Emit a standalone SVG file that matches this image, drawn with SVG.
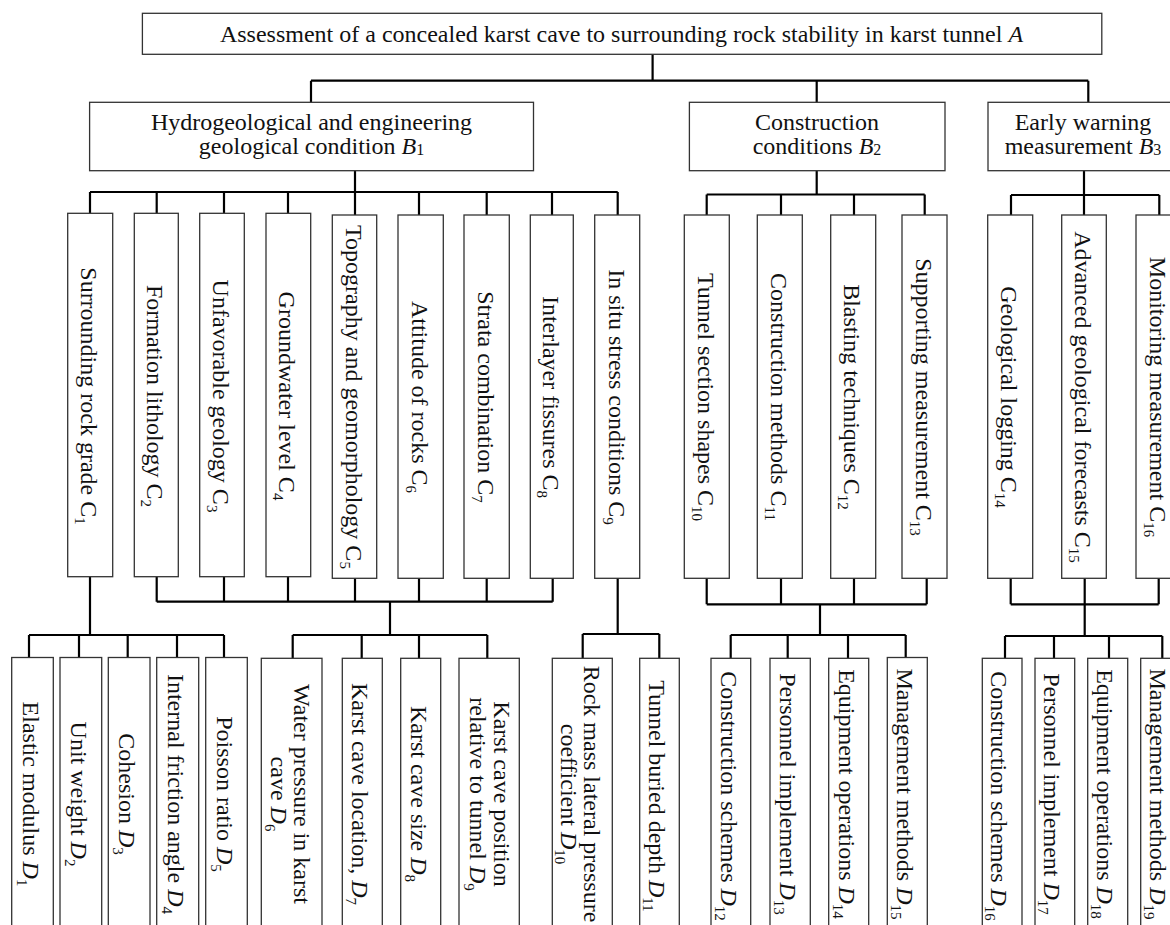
<svg xmlns="http://www.w3.org/2000/svg" width="1170" height="925" viewBox="0 0 1170 925">
<style>
  .bx{fill:#fff;stroke:#333;stroke-width:1.3}
  .cn{fill:none;stroke:#000;stroke-width:2.2}
  text{font-family:"Liberation Serif","Times New Roman",serif;font-size:24px;fill:#111;text-anchor:middle}
  .i{font-style:italic}
  .s{font-size:15px}
  .bs{font-size:16px}
</style>
<rect width="1170" height="925" fill="#fff"/>
<g id="connectors" class="cn">
  <path d="M652.6 54.3V80.7M311 80.7H1088.3M311 80.7V102.3M816.7 80.7V102.3M1088.3 80.7V102.3"/>
  <path d="M355 170.7V192M90 192H617.7M90 192V213.5M156.7 192V213.5M224 192V213.5M288 192V213.5M355 192V215M419 192V215M486.7 192V215M552 192V215M617.7 192V215"/>
  <path d="M816.7 170.7V194.5M706.7 194.5H924.7M706.7 194.5V215M781 194.5V215M854 194.5V215M924.7 194.5V215"/>
  <path d="M1084 170.7V195M1011 195H1159.3M1011 195V215M1084 195V215M1159.3 195V215"/>
  <path d="M90 577V635M29 635H224M29 635V658M79 635V658M127.7 635V658M177 635V658M224 635V658"/>
  <path d="M156.7 577V601.7M224 577V601.7M288 577V601.7M355 578V601.7M419 578V601.7M486.7 578V601.7M552.7 578V601.7M156.7 601.7H552.7M390 601.7V635M292.7 635H487.3M292.7 635V658M361.7 635V658M419 635V658M487.3 635V658"/>
  <path d="M617.7 578V634M582.7 634H659.3M582.7 634V658M659.3 634V658"/>
  <path d="M706.7 578V604.3M781 578V604.3M854 578V604.3M926.7 578V604.3M706.7 604.3H926.7M820 604.3V635M730.7 635H905.7M730.7 635V658M787.7 635V658M848 635V658M905.7 635V658"/>
  <path d="M1010.7 578V604.3M1084.7 578V604.3M1158.7 578V604.3M1010.7 604.3H1158.7M1084.7 604.3V636M1005 636H1162.3M1005 636V658M1054 636V658M1109 636V658M1162.3 636V658"/>
</g>
<g id="A"><rect class="bx" x="142.4" y="13.3" width="959.4" height="41"/><text x="621.5" y="42">Assessment of a concealed karst cave to surrounding rock stability in karst tunnel <tspan class="i">A</tspan></text></g>
<g id="B1"><rect class="bx" x="89.6" y="102.3" width="443.9" height="68.4"/><text x="311.5" y="130">Hydrogeological and engineering</text><text x="311.5" y="154">geological condition <tspan class="i">B</tspan><tspan class="bs" dy="1">1</tspan></text></g>
<g id="B2"><rect class="bx" x="689.4" y="102.3" width="255.6" height="68.4"/><text x="817" y="130">Construction</text><text x="817" y="154">conditions <tspan class="i">B</tspan><tspan class="bs" dy="1">2</tspan></text></g>
<g id="B3"><rect class="bx" x="988" y="102.3" width="190" height="68.4"/><text x="1083" y="130">Early warning</text><text x="1083" y="154">measurement <tspan class="i">B</tspan><tspan class="bs" dy="1">3</tspan></text></g>
<g id="C1"><rect class="bx" x="67.7" y="213.3" width="45" height="363.4"/><text transform="translate(81.2,396) rotate(90)">Surrounding rock grade C<tspan class="s" dy="6">1</tspan></text></g>
<g id="C2"><rect class="bx" x="134.3" y="213.3" width="44" height="363.4"/><text transform="translate(147.3,396) rotate(90)">Formation lithology C<tspan class="s" dy="6">2</tspan></text></g>
<g id="C3"><rect class="bx" x="199.7" y="213.3" width="44.6" height="363.4"/><text transform="translate(213,396) rotate(90)">Unfavorable geology C<tspan class="s" dy="6">3</tspan></text></g>
<g id="C4"><rect class="bx" x="266" y="213.3" width="44.7" height="363.4"/><text transform="translate(279.3,396) rotate(90)">Groundwater level C<tspan class="s" dy="6">4</tspan></text></g>
<g id="C5"><rect class="bx" x="332.3" y="215" width="44.4" height="363.3"/><text transform="translate(345.5,397) rotate(90)">Topography and geomorphology C<tspan class="s" dy="6">5</tspan></text></g>
<g id="C6"><rect class="bx" x="398" y="215" width="45.3" height="363.3"/><text transform="translate(411.7,397) rotate(90)">Attitude of rocks C<tspan class="s" dy="6">6</tspan></text></g>
<g id="C7"><rect class="bx" x="464" y="215" width="45.3" height="363.3"/><text transform="translate(477.7,397) rotate(90)">Strata combination C<tspan class="s" dy="6">7</tspan></text></g>
<g id="C8"><rect class="bx" x="530.3" y="215" width="43" height="363.3"/><text transform="translate(542.8,397) rotate(90)">Interlayer fissures C<tspan class="s" dy="6">8</tspan></text></g>
<g id="C9"><rect class="bx" x="594.7" y="215" width="45" height="363.3"/><text transform="translate(608.7,397) rotate(90)">In situ stress conditions C<tspan class="s" dy="6">9</tspan></text></g>
<g id="C10"><rect class="bx" x="684.3" y="215" width="45" height="363.3"/><text transform="translate(698,397) rotate(90)">Tunnel section shapes C<tspan class="s" dy="6">10</tspan></text></g>
<g id="C11"><rect class="bx" x="757.3" y="215" width="45" height="363.3"/><text transform="translate(770.8,397) rotate(90)">Construction methods C<tspan class="s" dy="6">11</tspan></text></g>
<g id="C12"><rect class="bx" x="830.7" y="215" width="45" height="363.3"/><text transform="translate(844.2,397) rotate(90)">Blasting techniques C<tspan class="s" dy="6">12</tspan></text></g>
<g id="C13"><rect class="bx" x="902" y="215" width="45" height="363.3"/><text transform="translate(915.5,397) rotate(90)">Supporting measurement C<tspan class="s" dy="6">13</tspan></text></g>
<g id="C14"><rect class="bx" x="987.7" y="215" width="45" height="363.3"/><text transform="translate(1001,397) rotate(90)">Geological logging C<tspan class="s" dy="6">14</tspan></text></g>
<g id="C15"><rect class="bx" x="1061.7" y="215" width="44.6" height="363.3"/><text transform="translate(1075,397) rotate(90)">Advanced geological forecasts C<tspan class="s" dy="6">15</tspan></text></g>
<g id="C16"><rect class="bx" x="1136" y="215" width="45" height="363.3"/><text transform="translate(1149.5,397) rotate(90)">Monitoring measurement C<tspan class="s" dy="6">16</tspan></text></g>
<g id="D1"><rect class="bx" x="11.7" y="657.5" width="41.6" height="280"/><text transform="translate(23,794) rotate(90)">Elastic modulus <tspan class="i">D</tspan><tspan class="s" dy="6">1</tspan></text></g>
<g id="D2"><rect class="bx" x="60" y="657.5" width="41.7" height="280"/><text transform="translate(70.8,794) rotate(90)">Unit weight <tspan class="i">D</tspan><tspan class="s" dy="6">2</tspan></text></g>
<g id="D3"><rect class="bx" x="108.3" y="657.5" width="41.7" height="280"/><text transform="translate(119.2,794) rotate(90)">Cohesion <tspan class="i">D</tspan><tspan class="s" dy="6">3</tspan></text></g>
<g id="D4"><rect class="bx" x="156.7" y="657.5" width="42" height="280"/><text transform="translate(168,794) rotate(90)">Internal friction angle <tspan class="i">D</tspan><tspan class="s" dy="6">4</tspan></text></g>
<g id="D5"><rect class="bx" x="205.7" y="657.5" width="41.6" height="280"/><text transform="translate(216.6,794) rotate(90)">Poisson ratio <tspan class="i">D</tspan><tspan class="s" dy="6">5</tspan></text></g>
<g id="D6"><rect class="bx" x="261.3" y="658.3" width="60.7" height="280"/><text transform="translate(293.5,794) rotate(90)">Water pressure in karst</text><text transform="translate(271,794) rotate(90)">cave <tspan class="i">D</tspan><tspan class="s" dy="6">6</tspan></text></g>
<g id="D7"><rect class="bx" x="342.3" y="658.3" width="40" height="280"/><text transform="translate(352,794) rotate(90)">Karst cave location, <tspan class="i">D</tspan><tspan class="s" dy="6">7</tspan></text></g>
<g id="D8"><rect class="bx" x="400.7" y="658.3" width="40" height="280"/><text transform="translate(410.5,794) rotate(90)">Karst cave size <tspan class="i">D</tspan><tspan class="s" dy="6">8</tspan></text></g>
<g id="D9"><rect class="bx" x="459" y="658.3" width="60.3" height="280"/><text transform="translate(493.5,794) rotate(90)">Karst cave position</text><text transform="translate(469.5,794) rotate(90)">relative to tunnel <tspan class="i">D</tspan><tspan class="s" dy="6">9</tspan></text></g>
<g id="D10"><rect class="bx" x="552.3" y="658.3" width="60" height="280"/><text transform="translate(583.5,794) rotate(90)">Rock mass lateral pressure</text><text transform="translate(561,794) rotate(90)">coefficient <tspan class="i">D</tspan><tspan class="s" dy="6">10</tspan></text></g>
<g id="D11"><rect class="bx" x="639.7" y="658.3" width="39.6" height="280"/><text transform="translate(649,796) rotate(90)">Tunnel buried depth <tspan class="i">D</tspan><tspan class="s" dy="6">11</tspan></text></g>
<g id="D12"><rect class="bx" x="711" y="658.3" width="39.7" height="280"/><text transform="translate(720.5,796) rotate(90)">Construction schemes <tspan class="i">D</tspan><tspan class="s" dy="6">12</tspan></text></g>
<g id="D13"><rect class="bx" x="770" y="658.3" width="40.3" height="280"/><text transform="translate(780,794) rotate(90)">Personnel implement <tspan class="i">D</tspan><tspan class="s" dy="6">13</tspan></text></g>
<g id="D14"><rect class="bx" x="828.7" y="658.3" width="40" height="280"/><text transform="translate(838.5,794) rotate(90)">Equipment operations <tspan class="i">D</tspan><tspan class="s" dy="6">14</tspan></text></g>
<g id="D15"><rect class="bx" x="887.3" y="657.5" width="40" height="280"/><text transform="translate(897,794) rotate(90)">Management methods <tspan class="i">D</tspan><tspan class="s" dy="6">15</tspan></text></g>
<g id="D16"><rect class="bx" x="982.3" y="658.3" width="39.7" height="280"/><text transform="translate(991,796) rotate(90)">Construction schemes <tspan class="i">D</tspan><tspan class="s" dy="6">16</tspan></text></g>
<g id="D17"><rect class="bx" x="1035" y="658.3" width="39.7" height="280"/><text transform="translate(1044,794) rotate(90)">Personnel implement <tspan class="i">D</tspan><tspan class="s" dy="6">17</tspan></text></g>
<g id="D18"><rect class="bx" x="1087.7" y="658.3" width="40" height="280"/><text transform="translate(1096.5,794) rotate(90)">Equipment operations <tspan class="i">D</tspan><tspan class="s" dy="6">18</tspan></text></g>
<g id="D19"><rect class="bx" x="1140.7" y="658.3" width="40" height="280"/><text transform="translate(1149.5,794) rotate(90)">Management methods <tspan class="i">D</tspan><tspan class="s" dy="6">19</tspan></text></g>
</svg>
